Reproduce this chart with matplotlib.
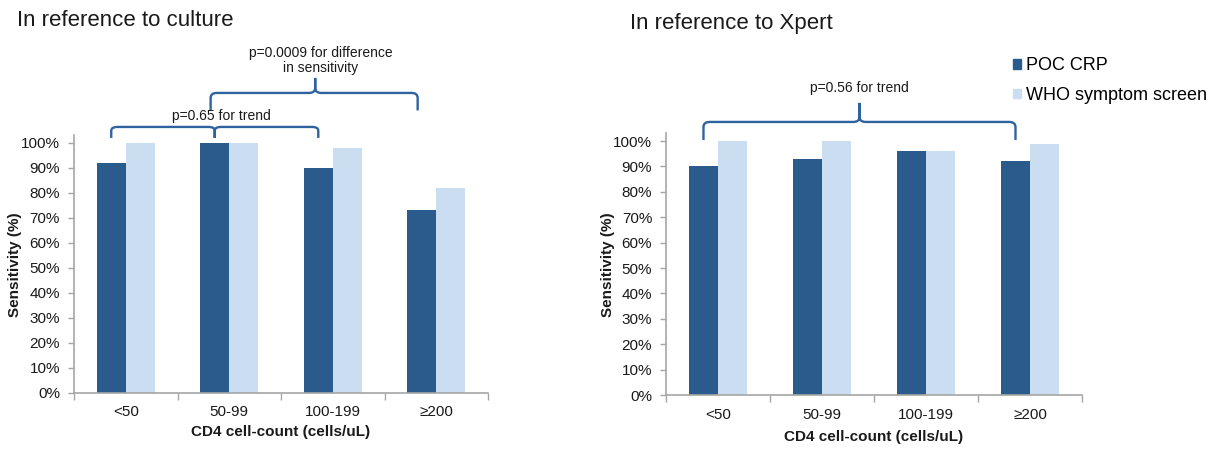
import numpy as np
import matplotlib
matplotlib.use("Agg")
import matplotlib.pyplot as plt
from matplotlib.path import Path
from matplotlib.patches import PathPatch, Patch

plt.rcParams['font.family'] = ['Liberation Sans', 'DejaVu Sans']

# data
categories = ['<50', '50-99', '100-199', '\u2265200']
series_names = ['POC CRP', 'WHO symptom screen']
culture_crp = [92, 100, 90, 73]
culture_who = [100, 100, 98, 82]
xpert_crp = [90, 93, 96, 92]
xpert_who = [100, 100, 96, 99]
yticks = list(range(0, 101, 10))

DARK = '#2A5B8C'
LIGHT = '#CADDF1'
BRACE = '#2F63A0'
GREY = '#A6A6A6'
TXT = '#1A1A1A'


def brace(ax, x0, x1, xm, y, yend, ytip, rx=0.06, ry=2.0):
    # horizontal curly bracket in data coords, ends going to yend, tip to ytip
    d = 1 if ytip > y else -1
    verts = [(x0, yend), (x0, y - ry), (x0, y), (x0 + rx, y),
             (xm - rx, y), (xm, y), (xm, y + d * ry), (xm, ytip),
             (xm, y + d * ry), (xm, y), (xm + rx, y),
             (x1 - rx, y), (x1, y), (x1, y - ry), (x1, yend)]
    codes = [Path.MOVETO, Path.LINETO, Path.CURVE3, Path.CURVE3,
             Path.LINETO, Path.CURVE3, Path.CURVE3, Path.LINETO,
             Path.LINETO, Path.CURVE3, Path.CURVE3,
             Path.LINETO, Path.CURVE3, Path.CURVE3, Path.LINETO]
    ax.add_patch(PathPatch(Path(verts, codes), fill=False, ec=BRACE,
                           lw=1.7, clip_on=False, capstyle='butt'))


def plot_panel(ax, crp, who, xpad):
    x = np.arange(len(categories))
    w = 0.28
    ax.bar(x - w / 2, crp, w, color=DARK, label=series_names[0])
    ax.bar(x + w / 2, who, w, color=LIGHT, label=series_names[1])
    ax.set_xlim(-0.5, len(categories) - 0.5)
    ax.set_ylim(0, 103)
    ax.set_yticks(yticks)
    ax.set_yticklabels(['%d%%' % v for v in yticks], fontsize=11, color=TXT)
    ax.set_xticks(x)
    ax.set_xticklabels(categories, fontsize=11, color=TXT)
    ax.set_xticks(np.arange(len(categories) + 1) - 0.5, minor=True)
    ax.tick_params(axis='x', which='major', length=0, pad=9)
    ax.tick_params(axis='x', which='minor', length=5, color=GREY, width=1)
    ax.tick_params(axis='y', length=4, color=GREY, width=1, pad=6)
    for s in ['top', 'right']:
        ax.spines[s].set_visible(False)
    for s in ['left', 'bottom']:
        ax.spines[s].set_color(GREY)
        ax.spines[s].set_linewidth(1.2)
    ax.set_xlabel('CD4 cell-count (cells/uL)', fontsize=11, fontweight='bold',
                  color=TXT, labelpad=xpad)
    ax.set_ylabel('Sensitivity (%)', fontsize=11, fontweight='bold',
                  color=TXT, labelpad=-1)


fig = plt.figure(figsize=(12.25, 4.5), dpi=100)
ax1 = fig.add_axes([0.0604, 0.1267, 0.338, 0.5723])
ax2 = fig.add_axes([0.5437, 0.1222, 0.3396, 0.5814])

plot_panel(ax1, culture_crp, culture_who, 4)
plot_panel(ax2, xpert_crp, xpert_who, 6)

# left panel brackets
brace(ax1, -0.14, 1.86, 0.86, 106.4, 102, 102, ry=1.5)
ax1.text(0.92, 110.6, 'p=0.65 for trend', ha='center', va='center',
         fontsize=10, color=TXT, clip_on=False)
brace(ax1, 0.82, 2.82, 1.83, 120, 113, 126)
ax1.text(1.88, 133, 'p=0.0009 for difference\nin sensitivity', ha='center',
         va='center', fontsize=10, color=TXT, linespacing=1.15,
         multialignment='center', clip_on=False)

# right panel bracket
brace(ax2, -0.14, 2.86, 1.36, 107.5, 100.4, 115)
ax2.text(1.36, 121, 'p=0.56 for trend', ha='center', va='center',
         fontsize=10, color=TXT, clip_on=False)

fig.text(0.0139, 0.955, 'In reference to culture', fontsize=16, color=TXT,
         ha='left', va='center')
fig.text(0.514, 0.948, 'In reference to Xpert', fontsize=16, color=TXT,
         ha='left', va='center')

handles = [Patch(color=DARK), Patch(color=LIGHT)]
fig.legend(handles, series_names, loc='upper left',
           bbox_to_anchor=(0.827, 0.873), frameon=False, fontsize=13,
           handlelength=0.45, handleheight=0.45, handletextpad=0.25,
           labelspacing=0.7, borderaxespad=0, borderpad=0)

fig.savefig('out.png', dpi=100)
